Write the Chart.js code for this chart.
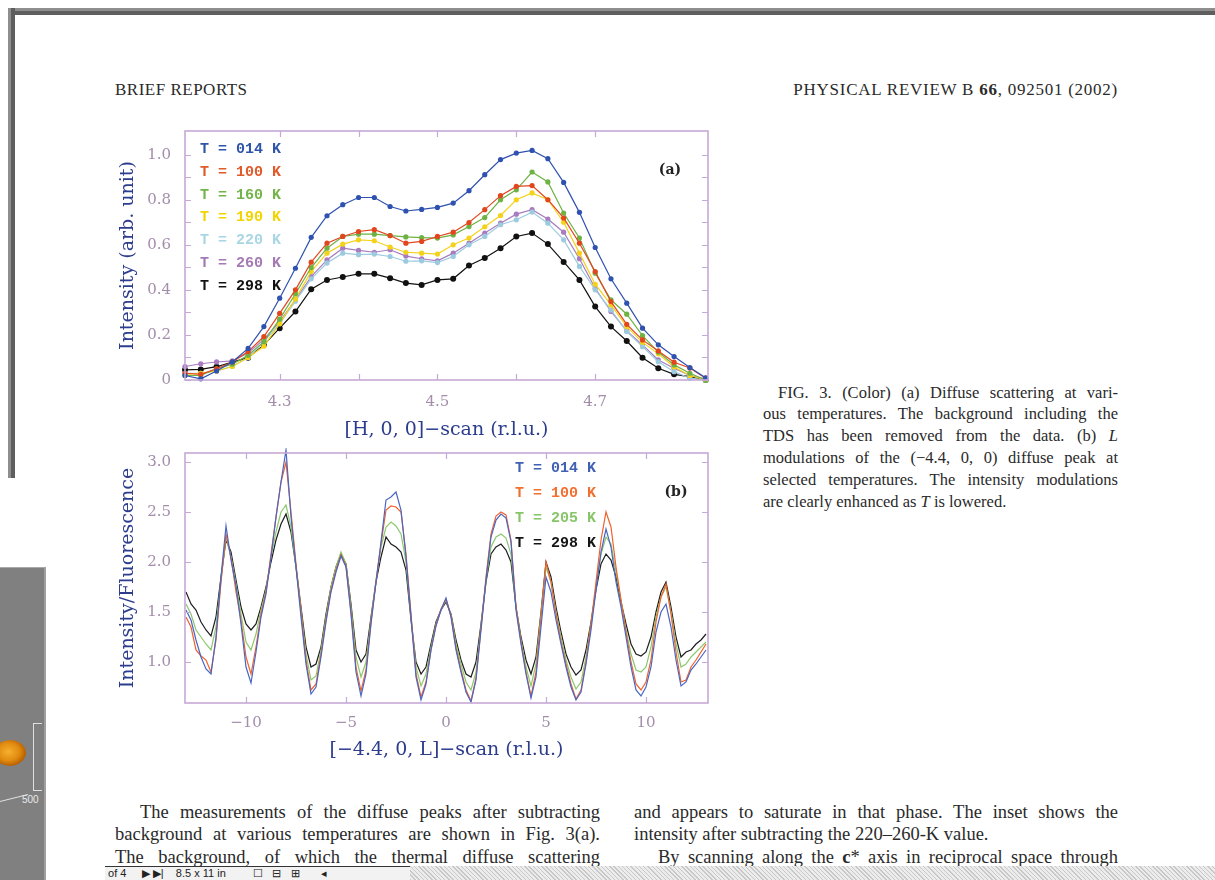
<!DOCTYPE html>
<html>
<head>
<meta charset="utf-8">
<script src="https://cdn.jsdelivr.net/npm/chart.js@4"></script>
<style>
  html,body{margin:0;padding:0;}
  body{width:1215px;height:880px;overflow:hidden;background:#fff;position:relative;
       font-family:"Liberation Serif","DejaVu Serif",serif;color:#2a2a2a;}
  .abs{position:absolute;}
  #frameTop{left:8px;top:8px;width:1207px;height:7px;background:linear-gradient(#8e8e8e 0 45%,#5e5e5e 45% 100%);}
  #frameLeft{left:8px;top:8px;width:7px;height:470px;background:linear-gradient(90deg,#8e8e8e 0 45%,#5e5e5e 45% 100%);}
  .hdr{font-size:17px;top:80px;line-height:20px;white-space:nowrap;letter-spacing:0.5px;}
  .cap{left:763px;width:355px;font-size:16.5px;line-height:22px;height:22px;white-space:nowrap;
       text-align:justify;text-align-last:justify;}
  .body{font-size:18.5px;line-height:22px;height:22px;white-space:nowrap;text-align:justify;text-align-last:justify;}
  #panel{left:0;top:567px;width:44px;height:313px;background:#808080;border-top:1px solid #a8a8a8;border-right:2px solid #a0a0a0;overflow:hidden;}
  #toolbar{left:105px;top:866px;width:1110px;height:14px;background:repeating-linear-gradient(45deg,#c8c8c8 0 1px,#ececec 1px 3px);}
  #tbLeft{left:0;top:0;width:305px;height:14px;background:#f2f2f2;border-top:1px solid #333;font-family:"Liberation Sans",sans-serif;font-size:11px;line-height:13px;color:#222;}
  canvas{position:absolute;}
</style>
</head>
<body>
<div id="frameTop" class="abs"></div>
<div id="frameLeft" class="abs"></div>

<div class="abs hdr" style="left:115px;">BRIEF REPORTS</div>
<div class="abs hdr" style="right:97px;letter-spacing:0.75px;">PHYSICAL REVIEW B <b>66</b>, 092501 (2002)</div>

<canvas id="chartA" width="620" height="325" style="left:100px;top:120px;"></canvas>
<canvas id="chartB" width="620" height="320" style="left:100px;top:445px;"></canvas>

<div class="abs cap" style="top:382px;left:778px;width:340px;">FIG. 3. (Color) (a) Diffuse scattering at vari-</div>
<div class="abs cap" style="top:403px;">ous temperatures. The background including the</div>
<div class="abs cap" style="top:425px;">TDS has been removed from the data. (b) <i>L</i></div>
<div class="abs cap" style="top:447px;">modulations of the (−4.4, 0, 0) diffuse peak at</div>
<div class="abs cap" style="top:469px;">selected temperatures. The intensity modulations</div>
<div class="abs cap" style="top:491px;text-align-last:left;">are clearly enhanced as <i>T</i> is lowered.</div>

<div class="abs body" style="top:801px;left:140px;width:460px;">The measurements of the diffuse peaks after subtracting</div>
<div class="abs body" style="top:823px;left:115px;width:485px;">background at various temperatures are shown in Fig. 3(a).</div>
<div class="abs body" style="top:846px;left:115px;width:485px;">The background, of which the thermal diffuse scattering</div>
<div class="abs body" style="top:801px;left:634px;width:484px;">and appears to saturate in that phase. The inset shows the</div>
<div class="abs body" style="top:823px;left:634px;width:484px;text-align-last:left;">intensity after subtracting the 220–260-K value.</div>
<div class="abs body" style="top:846px;left:658px;width:460px;">By scanning along the <b>c</b>* axis in reciprocal space through</div>

<div id="panel" class="abs">
  <div class="abs" style="left:-6px;top:172px;width:32px;height:26px;border-radius:50%;background:radial-gradient(ellipse at 45% 45%,#f6b030 0,#e08a10 45%,#b86000 70%,rgba(128,128,128,0) 74%);"></div>
  <div class="abs" style="left:33px;top:155px;width:8px;height:66px;border-left:1px solid #e0e0e0;border-top:1px solid #e0e0e0;border-bottom:1px solid #e0e0e0;"></div>
  <div class="abs" style="left:-2px;top:226px;width:30px;height:1px;background:#e0e0e0;transform:rotate(-14deg);transform-origin:right;"></div>
  <div class="abs" style="left:22px;top:226px;font-family:'Liberation Sans',sans-serif;font-size:10px;color:#eaeaea;">500</div>
</div>

<div id="toolbar" class="abs">
  <div id="tbLeft" class="abs">&nbsp;of 4 &nbsp;&nbsp;&nbsp;&nbsp;▶ ▶| &nbsp;&nbsp;&nbsp;8.5 x 11 in &nbsp;&nbsp;&nbsp;&nbsp;&nbsp;&nbsp;&nbsp;&nbsp;☐ &nbsp;&nbsp;⊟ &nbsp;&nbsp;⊞ &nbsp;&nbsp;&nbsp;&nbsp;&nbsp;&nbsp;◂</div>
</div>

<script>
// ---------- (a) [H, 0, 0] scans ----------
const hScan = [4.18,4.20,4.22,4.24,4.26,4.28,4.30,4.32,4.34,4.36,4.38,4.40,4.42,4.44,4.46,4.48,4.50,
               4.52,4.54,4.56,4.58,4.60,4.62,4.64,4.66,4.68,4.70,4.72,4.74,4.76,4.78,4.80,4.82,4.84];
const h014 = [0.02,0.005,0.04,0.08,0.14,0.237,0.363,0.496,0.633,0.729,0.778,0.81,0.81,0.77,0.75,0.757,0.766,
              0.785,0.84,0.911,0.978,1.007,1.019,0.982,0.877,0.744,0.588,0.449,0.341,0.23,0.156,0.104,0.055,0.01];
const h100 = [0.03,0.025,0.05,0.08,0.126,0.193,0.296,0.40,0.523,0.607,0.637,0.659,0.667,0.641,0.607,0.615,0.637,
              0.656,0.699,0.756,0.818,0.859,0.863,0.80,0.719,0.607,0.481,0.348,0.247,0.178,0.129,0.079,0.053,0.008];
const h160 = [0.02,0.02,0.05,0.07,0.11,0.17,0.27,0.383,0.499,0.585,0.637,0.647,0.647,0.641,0.635,0.632,0.63,
              0.644,0.681,0.721,0.80,0.844,0.923,0.879,0.741,0.63,0.474,0.356,0.292,0.197,0.124,0.067,0.03,0.0];
const h190 = [0.025,0.03,0.04,0.06,0.10,0.15,0.25,0.36,0.481,0.563,0.603,0.622,0.618,0.59,0.567,0.563,0.559,
              0.60,0.63,0.68,0.73,0.80,0.83,0.80,0.70,0.563,0.425,0.333,0.237,0.167,0.116,0.058,0.02,0.0];
const h220 = [0.03,0.03,0.04,0.06,0.10,0.17,0.25,0.35,0.449,0.519,0.563,0.556,0.559,0.548,0.527,0.529,0.521,
              0.548,0.60,0.637,0.689,0.711,0.745,0.696,0.622,0.504,0.40,0.311,0.215,0.148,0.081,0.037,0.008,0.0];
const h260 = [0.06,0.072,0.08,0.085,0.12,0.18,0.259,0.356,0.459,0.533,0.585,0.575,0.567,0.578,0.55,0.538,0.529,
              0.563,0.607,0.652,0.696,0.736,0.756,0.714,0.656,0.538,0.407,0.304,0.218,0.156,0.089,0.052,0.02,0.005];
const h298 = [0.045,0.047,0.059,0.079,0.099,0.156,0.23,0.304,0.403,0.444,0.457,0.471,0.471,0.452,0.43,0.422,0.444,
              0.449,0.508,0.541,0.585,0.637,0.652,0.603,0.524,0.444,0.326,0.237,0.173,0.099,0.052,0.025,0.015,0.0];
const labelsA = ['T = 014 K','T = 100 K','T = 160 K','T = 190 K','T = 220 K','T = 260 K','T = 298 K'];
const xTicksA = [4.3,4.4,4.5,4.6,4.7];
const xLabelsA = ['4.3','4.5','4.7'];
const yTicksA = [0.1,0.2,0.3,0.4,0.5,0.6,0.7,0.8,0.9,1.0];
const yLabelsA = ['0.2','0.4','0.6','0.8','1.0'];

// ---------- (b) [-4.4, 0, L] scans ----------
const lScan = [-13,-12.75,-12.5,-12.25,-12,-11.75,-11.5,-11.25,-11,-10.75,-10.5,-10.25,-10,-9.75,-9.5,-9.25,-9,
  -8.75,-8.5,-8.25,-8,-7.75,-7.5,-7.25,-7,-6.75,-6.5,-6.25,-6,-5.75,-5.5,-5.25,-5,-4.75,-4.5,-4.25,-4,-3.75,
  -3.5,-3.25,-3,-2.75,-2.5,-2.25,-2,-1.75,-1.5,-1.25,-1,-0.75,-0.5,-0.25,0,0.25,0.5,0.75,1,1.25,1.5,1.75,2,
  2.25,2.5,2.75,3,3.25,3.5,3.75,4,4.25,4.5,4.75,5,5.25,5.5,5.75,6,6.25,6.5,6.75,7,7.25,7.5,7.75,8,8.25,8.5,
  8.75,9,9.25,9.5,9.75,10,10.25,10.5,10.75,11,11.25,11.5,11.75,12,12.25,12.5,12.75,13];
const l014 = [1.52,1.42,1.22,1.05,0.93,0.88,1.25,1.85,2.36,2.02,
  1.76,1.38,0.95,0.79,1.10,1.45,1.68,2.05,2.45,2.80,
  3.12,2.45,1.95,1.45,0.98,0.68,0.75,1.05,1.40,1.70,
  1.90,2.06,1.95,1.48,0.90,0.66,0.88,1.38,1.80,2.20,
  2.62,2.65,2.70,2.52,2.05,1.45,0.85,0.62,0.78,1.12,
  1.36,1.52,1.64,1.45,1.12,0.90,0.70,0.60,0.82,1.32,
  1.82,2.25,2.42,2.48,2.44,2.20,1.52,1.18,0.88,0.64,
  0.85,1.35,1.85,1.70,1.42,1.18,0.95,0.75,0.62,0.70,
  0.98,1.32,1.72,2.10,2.33,2.15,1.80,1.55,1.25,0.95,
  0.72,0.66,0.75,0.95,1.30,1.50,1.58,1.35,1.02,0.76,
  0.80,0.92,0.98,1.05,1.12];
const l100 = [1.45,1.35,1.12,1.06,1.02,0.90,1.22,1.80,2.28,2.05,
  1.70,1.42,1.05,0.88,1.15,1.48,1.70,2.08,2.45,2.80,
  3.00,2.50,1.98,1.50,1.02,0.72,0.78,1.08,1.42,1.72,
  1.92,2.07,1.96,1.50,0.95,0.71,0.92,1.40,1.80,2.18,
  2.52,2.56,2.55,2.50,2.08,1.48,0.88,0.65,0.80,1.12,
  1.37,1.53,1.63,1.46,1.14,0.92,0.72,0.61,0.84,1.34,
  1.85,2.28,2.46,2.50,2.47,2.22,1.55,1.20,0.90,0.66,
  0.90,1.45,2.00,1.80,1.48,1.20,0.98,0.78,0.63,0.72,
  1.00,1.38,1.80,2.22,2.50,2.35,1.95,1.62,1.30,1.00,
  0.78,0.72,0.80,1.02,1.40,1.65,1.78,1.48,1.10,0.80,
  0.82,0.95,1.02,1.10,1.18];
const l205 = [1.58,1.48,1.32,1.25,1.18,1.12,1.35,1.82,2.25,2.05,
  1.78,1.48,1.20,1.12,1.28,1.52,1.72,2.05,2.30,2.50,
  2.57,2.35,1.95,1.52,1.08,0.82,0.86,1.12,1.45,1.75,
  1.95,2.10,1.98,1.55,1.05,0.85,1.00,1.42,1.82,2.15,
  2.35,2.40,2.36,2.28,2.00,1.45,0.95,0.76,0.88,1.15,
  1.38,1.52,1.62,1.47,1.18,0.98,0.80,0.72,0.90,1.35,
  1.82,2.15,2.25,2.28,2.24,2.08,1.55,1.22,0.95,0.76,
  0.98,1.48,1.95,1.80,1.50,1.25,1.02,0.85,0.73,0.80,
  1.05,1.38,1.75,2.08,2.25,2.18,1.90,1.62,1.32,1.08,
  0.92,0.90,0.95,1.15,1.45,1.65,1.75,1.50,1.18,0.95,
  0.98,1.05,1.10,1.15,1.20];
const l298 = [1.70,1.58,1.52,1.40,1.32,1.26,1.45,1.85,2.22,2.10,
  1.82,1.55,1.38,1.32,1.38,1.55,1.75,2.00,2.22,2.38,
  2.48,2.30,1.95,1.55,1.15,0.95,0.98,1.15,1.48,1.75,
  1.95,2.08,1.98,1.58,1.12,1.00,1.08,1.45,1.80,2.05,
  2.25,2.18,2.15,2.10,1.92,1.42,1.00,0.88,0.95,1.18,
  1.40,1.52,1.60,1.48,1.22,1.02,0.88,0.85,1.00,1.38,
  1.80,2.08,2.15,2.18,2.12,2.00,1.55,1.25,1.02,0.88,
  1.05,1.50,2.00,1.85,1.55,1.30,1.08,0.95,0.87,0.92,
  1.12,1.40,1.72,1.98,2.08,2.02,1.85,1.60,1.38,1.18,
  1.08,1.06,1.10,1.25,1.50,1.70,1.80,1.55,1.25,1.05,
  1.10,1.12,1.18,1.22,1.28];
const labelsB = ['T = 014 K','T = 100 K','T = 205 K','T = 298 K'];
const xTicksB = [-10,-5,0,5,10];
const yTicksB = [1.0,1.5,2.0,2.5,3.0];

// ---------- shared styling ----------
const FRAME = '#c6a9d6';
const TICKTEXT = '#a38dab';
const TITLE = '#2d3d8e';
const tickFont = {family:'DejaVu Serif', size:15};
const titleFont = {family:'DejaVu Serif', size:19};

const pts = (xs, ys) => xs.map((x, i) => ({x, y: ys[i]}));

// fixed axis boxes, no extra label overhang padding
function fixedHeight(h) {
  return s => { s.height = h; s.paddingLeft = 0; s.paddingRight = 0; s.paddingTop = 0; s.paddingBottom = 0; };
}
function fixedWidth(w) {
  return s => { s.width = w; s.paddingLeft = 0; s.paddingRight = 0; s.paddingTop = 0; s.paddingBottom = 0; };
}

// plot box with inward tick marks on all four sides
const boxTicks = {
  id: 'boxTicks',
  afterDatasetsDraw(chart, args, opts) {
    const {ctx, chartArea: a, scales: {x, y}} = chart;
    const L = 6;
    ctx.save();
    ctx.strokeStyle = FRAME;
    ctx.lineWidth = 1.6;
    ctx.strokeRect(a.left, a.top, a.right - a.left, a.bottom - a.top);
    ctx.lineWidth = 1.2;
    ctx.beginPath();
    x.ticks.forEach(t => {
      const p = Math.round(x.getPixelForValue(t.value)) + 0.5;
      ctx.moveTo(p, a.bottom); ctx.lineTo(p, a.bottom - L);
      ctx.moveTo(p, a.top); ctx.lineTo(p, a.top + L);
    });
    y.ticks.forEach(t => {
      const p = Math.round(y.getPixelForValue(t.value)) + 0.5;
      ctx.moveTo(a.left, p); ctx.lineTo(a.left + L, p);
      ctx.moveTo(a.right, p); ctx.lineTo(a.right - L, p);
    });
    ctx.stroke();
    // panel tag
    ctx.fillStyle = '#222';
    ctx.font = 'bold 14px "DejaVu Serif"';
    ctx.textAlign = 'center';
    ctx.textBaseline = 'middle';
    ctx.fillText(opts.tag, opts.tagX, opts.tagY);
    ctx.restore();
  }
};

// coloured dataset labels stacked inside the plot
const textLegend = {
  id: 'textLegend',
  afterDatasetsDraw(chart, args, opts) {
    const {ctx} = chart;
    ctx.save();
    ctx.font = 'bold 15px "Liberation Mono"';
    ctx.textAlign = 'left';
    ctx.textBaseline = 'middle';
    chart.data.datasets.forEach((ds, i) => {
      ctx.fillStyle = ds.textColor || ds.borderColor;
      ctx.fillText(ds.label, opts.x, opts.y + i * opts.dy);
    });
    ctx.restore();
  }
};

function lineSet(label, xs, ys, color, radius, textColor) {
  return {
    label, data: pts(xs, ys), borderColor: color, backgroundColor: color, textColor,
    borderWidth: 1.2, pointRadius: radius, pointBorderWidth: 0, pointHoverRadius: radius,
    tension: 0, clip: 5
  };
}

const colA = ['#2f52b0','#e2461f','#6db243','#f4d21c','#9ccbe0','#a77cc0','#111111'];
const txtA = ['#2f55a8','#e05a2a','#74b44a','#f2d400','#a9d6e4','#a47ab4','#111111'];
const seriesA = [h014,h100,h160,h190,h220,h260,h298];

new Chart(document.getElementById('chartA'), {
  type: 'line',
  data: {
    datasets: seriesA.map((s, i) => lineSet(labelsA[i], hScan, s, colA[i], i === 6 ? 3 : 2.6, txtA[i]))
  },
  options: {
    responsive: false, animation: false, events: [],
    layout: {padding: {top: 11, right: 12, left: 0, bottom: 0}},
    plugins: {
      legend: {display: false}, tooltip: {enabled: false},
      textLegend: {x: 100, y: 29, dy: 22.9},
      boxTicks: {tag: '(a)', tagX: 570, tagY: 50}
    },
    scales: {
      x: {
        type: 'linear', min: 4.18, max: 4.843,
        afterFit: fixedHeight(65),
        afterBuildTicks(s) { s.ticks = xTicksA.map(v => ({value: v})); },
        grid: {display: false, drawTicks: false}, border: {display: false},
        ticks: {
          padding: 13, color: TICKTEXT, font: tickFont, maxRotation: 0, autoSkip: false,
          callback: v => { const s = v.toFixed(1); return xLabelsA.includes(s) ? s : ''; }
        },
        title: {display: true, text: '[H, 0, 0]\u2212scan (r.l.u.)', color: TITLE, font: titleFont,
                padding: {top: 0, bottom: 3.6}}
      },
      y: {
        type: 'linear', min: 0, max: 1.105,
        afterFit: fixedWidth(85),
        afterBuildTicks(s) { s.ticks = [0].concat(yTicksA).map(v => ({value: v})); },
        grid: {display: false, drawTicks: false}, border: {display: false},
        ticks: {
          padding: 14, color: TICKTEXT, font: tickFont, autoSkip: false,
          callback: v => { if (v === 0) return '0'; const s = v.toFixed(1); return yLabelsA.includes(s) ? s : ''; }
        },
        title: {display: true, text: 'Intensity (arb. unit)', color: TITLE, font: titleFont,
                padding: {top: 17, bottom: 0}}
      }
    }
  },
  plugins: [textLegend, boxTicks]
});

const colB = ['#4a66c4','#f0622c','#8cc86e','#1e1e1e'];
const txtB = ['#4060b4','#f07030','#88c468','#151515'];
const seriesB = [l014,l100,l205,l298];

new Chart(document.getElementById('chartB'), {
  type: 'line',
  data: {
    datasets: seriesB.map((s, i) => lineSet(labelsB[i], lScan, s, colB[i], 0, txtB[i]))
  },
  options: {
    responsive: false, animation: false, events: [],
    layout: {padding: {top: 8, right: 12, left: 0, bottom: 0}},
    plugins: {
      legend: {display: false}, tooltip: {enabled: false},
      textLegend: {x: 415, y: 23, dy: 25.2},
      boxTicks: {tag: '(b)', tagX: 576, tagY: 47}
    },
    scales: {
      x: {
        type: 'linear', min: -13.05, max: 13.1,
        afterFit: fixedHeight(62),
        afterBuildTicks(s) { s.ticks = xTicksB.map(v => ({value: v})); },
        grid: {display: false, drawTicks: false}, border: {display: false},
        ticks: {
          padding: 11, color: TICKTEXT, font: tickFont, maxRotation: 0, autoSkip: false,
          callback: v => (v < 0 ? '\u2212' + Math.abs(v) : String(v))
        },
        title: {display: true, text: '[\u22124.4, 0, L]\u2212scan (r.l.u.)', color: TITLE, font: titleFont,
                padding: {top: 0, bottom: 3.6}}
      },
      y: {
        type: 'linear', min: 0.59, max: 3.09,
        afterFit: fixedWidth(85),
        afterBuildTicks(s) { s.ticks = yTicksB.map(v => ({value: v})); },
        grid: {display: false, drawTicks: false}, border: {display: false},
        ticks: {padding: 14, color: TICKTEXT, font: tickFont, autoSkip: false, callback: v => v.toFixed(1)},
        title: {display: true, text: 'Intensity/Fluorescence', color: TITLE, font: titleFont,
                padding: {top: 17, bottom: 0}}
      }
    }
  },
  plugins: [textLegend, boxTicks]
});
</script>
</body>
</html>
